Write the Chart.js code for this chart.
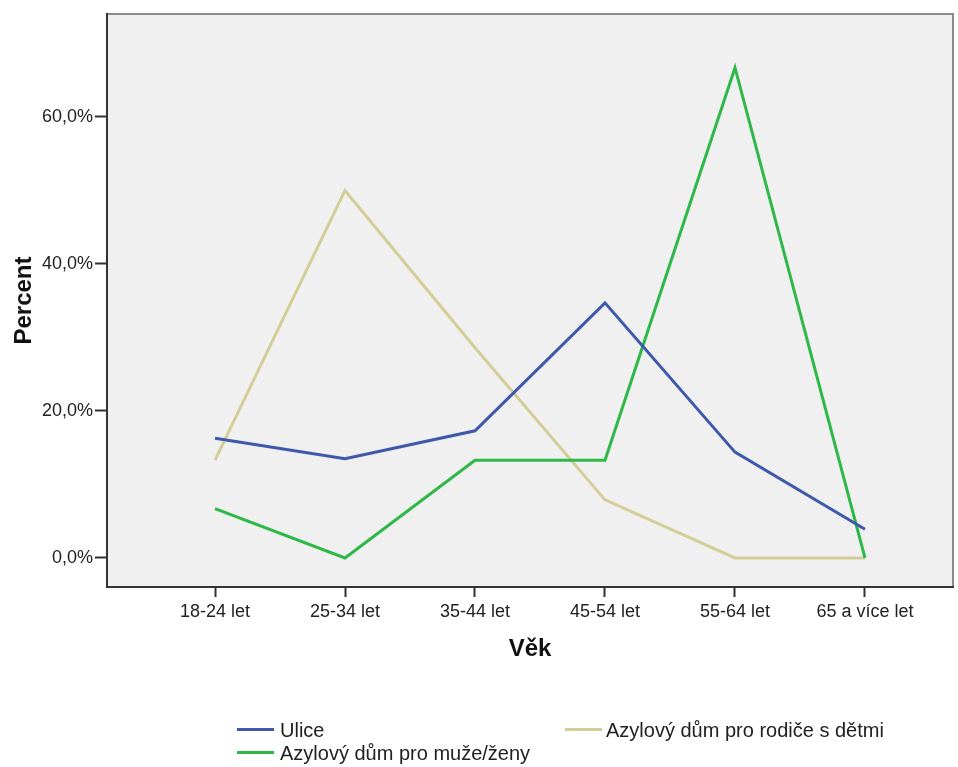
<!DOCTYPE html>
<html><head><meta charset="utf-8">
<script src="https://cdn.jsdelivr.net/npm/chart.js@4/dist/chart.umd.min.js"></script>
<style>
html,body{margin:0;padding:0;background:#fff;width:958px;height:767px;overflow:hidden}
#wrap{position:relative;width:958px;height:767px}
#c{position:absolute;left:0;top:0}
.lg{position:absolute;height:24px;line-height:24px;font:20px "Liberation Sans",Arial,sans-serif;color:#222;white-space:nowrap}
.sw{position:absolute;height:3px}
</style></head>
<body>
<div id="wrap"><canvas id="c" width="958" height="767"></canvas><div id="legend"></div></div>
<script>
const categories = ['18-24 let','25-34 let','35-44 let','45-54 let','55-64 let','65 a více let'];
const seriesNames = ['Ulice','Azylový dům pro muže/ženy','Azylový dům pro rodiče s dětmi'];
const ulice = [16.3, 13.5, 17.3, 34.7, 14.4, 3.9];
const azylMuzi = [6.7, 0.0, 13.3, 13.3, 66.7, 0.0];
const azylRodice = [13.3, 50.0, 28.6, 7.9, 0.0, 0.0];
const yTickValues = [0, 20, 40, 60];
const xTitle = 'Věk';
const yTitle = 'Percent';

const toPoints = arr => arr.map((v, i) => ({x: i, y: v}));
const fmtPct = v => v.toFixed(1).replace('.', ',') + '%';

const framePlugin = {
  id: 'frame',
  beforeDraw(chart) {
    const {ctx, chartArea: a} = chart;
    ctx.save();
    ctx.fillStyle = '#f0f0f0';
    ctx.fillRect(a.left, a.top, a.right - a.left, a.bottom - a.top);
    ctx.strokeStyle = '#8a8a8a';
    ctx.lineWidth = 2;
    ctx.beginPath();
    ctx.moveTo(a.left, a.top);
    ctx.lineTo(a.right, a.top);
    ctx.lineTo(a.right, a.bottom);
    ctx.stroke();
    ctx.restore();
  }
};

const tickFont = {family: '"Liberation Sans", Arial, sans-serif', size: 18};
const titleFont = {family: '"Liberation Sans", Arial, sans-serif', size: 24, weight: 'bold'};

const chart = new Chart(document.getElementById('c'), {
  type: 'line',
  data: {
    datasets: [
      {label: seriesNames[0], data: toPoints(ulice), borderColor: '#3e58ac', backgroundColor: '#3e58ac'},
      {label: seriesNames[1], data: toPoints(azylMuzi), borderColor: '#2eb848', backgroundColor: '#2eb848'},
      {label: seriesNames[2], data: toPoints(azylRodice), borderColor: '#d3ce97', backgroundColor: '#d3ce97'}
    ]
  },
  options: {
    responsive: false,
    animation: false,
    devicePixelRatio: 1,
    layout: {padding: {left: 0, top: 14, right: 5, bottom: 100}},
    elements: {line: {borderWidth: 3, tension: 0, borderJoinStyle: 'miter'}, point: {radius: 0, hoverRadius: 0}},
    plugins: {legend: {display: false}, tooltip: {enabled: false}},
    scales: {
      x: {
        type: 'linear',
        min: -0.8308,
        max: 5.677,
        afterBuildTicks: s => { s.ticks = categories.map((c, i) => ({value: i})); },
        afterFit: s => { s.height = 80; },
        ticks: {font: tickFont, color: '#222', padding: 4, maxRotation: 0, autoSkip: false,
                callback: v => categories[v]},
        grid: {drawOnChartArea: false, drawTicks: true, tickLength: 10, tickColor: '#333', tickWidth: 2},
        border: {display: true, color: '#333', width: 2},
        title: {display: true, text: xTitle, font: titleFont, color: '#111', padding: {top: 0, bottom: 3}}
      },
      y: {
        type: 'linear',
        min: -3.95,
        max: 74.0,
        afterBuildTicks: s => { s.ticks = yTickValues.map(v => ({value: v})); },
        afterFit: s => { s.width = 107; },
        ticks: {font: tickFont, color: '#222', padding: 2, callback: v => fmtPct(v)},
        grid: {drawOnChartArea: false, drawTicks: true, tickLength: 12, tickColor: '#333', tickWidth: 2},
        border: {display: true, color: '#333', width: 2},
        title: {display: true, text: yTitle, font: titleFont, color: '#111', padding: {top: 10, bottom: 0}}
      }
    }
  },
  plugins: [framePlugin]
});

// HTML legend built from the chart datasets
const legendPos = [
  {sx: 237, tx: 280, cy: 731},
  {sx: 237, tx: 280, cy: 754},
  {sx: 565, tx: 606, cy: 731}
];
const lg = document.getElementById('legend');
chart.data.datasets.forEach((ds, i) => {
  const p = legendPos[i];
  const sw = document.createElement('div');
  sw.className = 'sw';
  sw.style.left = p.sx + 'px'; sw.style.width = '37px';
  sw.style.top = (p.cy - 3) + 'px';
  sw.style.background = ds.borderColor;
  lg.appendChild(sw);
  const t = document.createElement('div');
  t.className = 'lg';
  t.style.left = p.tx + 'px';
  t.style.top = (p.cy - 12) + 'px';
  t.textContent = ds.label;
  lg.appendChild(t);
});
</script>
</body></html>
